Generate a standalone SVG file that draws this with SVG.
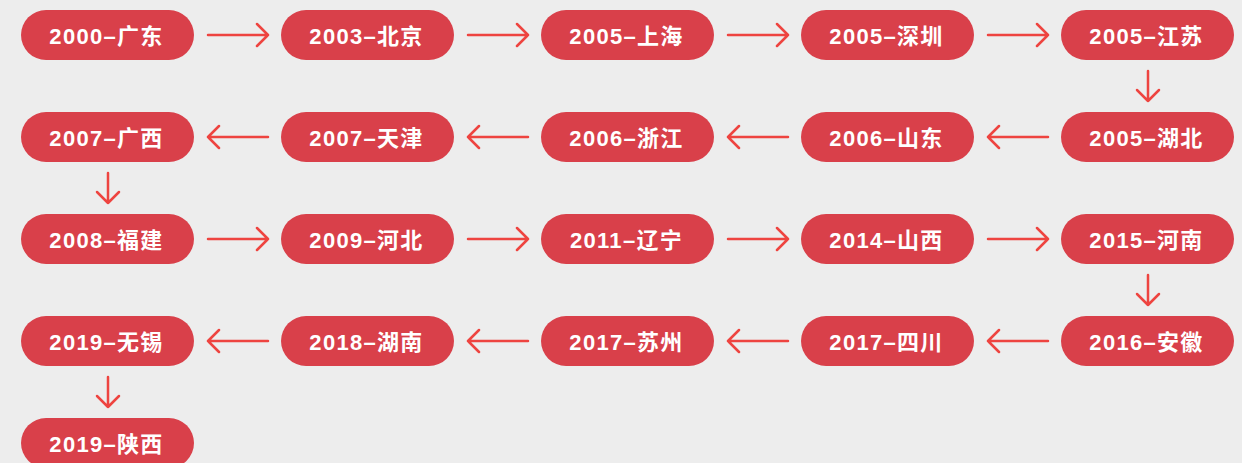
<svg xmlns="http://www.w3.org/2000/svg" width="1242" height="463" viewBox="0 0 1242 463">
<defs>
<style>
.p rect{fill:#d9404a}
.p text{fill:#fff;font-family:"Liberation Sans","Noto Sans CJK SC",sans-serif;font-weight:bold;font-size:22px;letter-spacing:1.3px;text-anchor:middle;dominant-baseline:central}
.c path{fill:none;stroke:#ee4440;stroke-width:2.5;stroke-linecap:round;stroke-linejoin:round}
</style>
</defs>
<rect width="1242" height="463" fill="#ededed"/>
<g class="c" id="connectors">
<path d="M208 35H268M257 24L268 35L257 46"/>
<path d="M468 35H528M517 24L528 35L517 46"/>
<path d="M728 35H788M777 24L788 35L777 46"/>
<path d="M988 35H1048M1037 24L1048 35L1037 46"/>
<path d="M1148 71V101M1137 90L1148 101L1159 90"/>
<path d="M1048 137H988M999 126L988 137L999 148"/>
<path d="M788 137H728M739 126L728 137L739 148"/>
<path d="M528 137H468M479 126L468 137L479 148"/>
<path d="M268 137H208M219 126L208 137L219 148"/>
<path d="M108 173V203M97 192L108 203L119 192"/>
<path d="M208 239H268M257 228L268 239L257 250"/>
<path d="M468 239H528M517 228L528 239L517 250"/>
<path d="M728 239H788M777 228L788 239L777 250"/>
<path d="M988 239H1048M1037 228L1048 239L1037 250"/>
<path d="M1148 275V305M1137 294L1148 305L1159 294"/>
<path d="M1048 341H988M999 330L988 341L999 352"/>
<path d="M788 341H728M739 330L728 341L739 352"/>
<path d="M528 341H468M479 330L468 341L479 352"/>
<path d="M268 341H208M219 330L208 341L219 352"/>
<path d="M108 377V407M97 396L108 407L119 396"/>
</g>
<g class="p" id="n1"><rect x="21" y="10" width="173" height="50" rx="25"/><text x="106.5" y="36">2000–广东</text></g>
<g class="p" id="n2"><rect x="281" y="10" width="173" height="50" rx="25"/><text x="366.5" y="36">2003–北京</text></g>
<g class="p" id="n3"><rect x="541" y="10" width="173" height="50" rx="25"/><text x="626.5" y="36">2005–上海</text></g>
<g class="p" id="n4"><rect x="801" y="10" width="173" height="50" rx="25"/><text x="886.5" y="36">2005–深圳</text></g>
<g class="p" id="n5"><rect x="1061" y="10" width="173" height="50" rx="25"/><text x="1146.5" y="36">2005–江苏</text></g>
<g class="p" id="n6"><rect x="1061" y="112" width="173" height="50" rx="25"/><text x="1146.5" y="138">2005–湖北</text></g>
<g class="p" id="n7"><rect x="801" y="112" width="173" height="50" rx="25"/><text x="886.5" y="138">2006–山东</text></g>
<g class="p" id="n8"><rect x="541" y="112" width="173" height="50" rx="25"/><text x="626.5" y="138">2006–浙江</text></g>
<g class="p" id="n9"><rect x="281" y="112" width="173" height="50" rx="25"/><text x="366.5" y="138">2007–天津</text></g>
<g class="p" id="n10"><rect x="21" y="112" width="173" height="50" rx="25"/><text x="106.5" y="138">2007–广西</text></g>
<g class="p" id="n11"><rect x="21" y="214" width="173" height="50" rx="25"/><text x="106.5" y="240">2008–福建</text></g>
<g class="p" id="n12"><rect x="281" y="214" width="173" height="50" rx="25"/><text x="366.5" y="240">2009–河北</text></g>
<g class="p" id="n13"><rect x="541" y="214" width="173" height="50" rx="25"/><text x="626.5" y="240">2011–辽宁</text></g>
<g class="p" id="n14"><rect x="801" y="214" width="173" height="50" rx="25"/><text x="886.5" y="240">2014–山西</text></g>
<g class="p" id="n15"><rect x="1061" y="214" width="173" height="50" rx="25"/><text x="1146.5" y="240">2015–河南</text></g>
<g class="p" id="n16"><rect x="1061" y="316" width="173" height="50" rx="25"/><text x="1146.5" y="342">2016–安徽</text></g>
<g class="p" id="n17"><rect x="801" y="316" width="173" height="50" rx="25"/><text x="886.5" y="342">2017–四川</text></g>
<g class="p" id="n18"><rect x="541" y="316" width="173" height="50" rx="25"/><text x="626.5" y="342">2017–苏州</text></g>
<g class="p" id="n19"><rect x="281" y="316" width="173" height="50" rx="25"/><text x="366.5" y="342">2018–湖南</text></g>
<g class="p" id="n20"><rect x="21" y="316" width="173" height="50" rx="25"/><text x="106.5" y="342">2019–无锡</text></g>
<g class="p" id="n21"><rect x="21" y="418" width="173" height="50" rx="25"/><text x="106.5" y="444">2019–陕西</text></g>
</svg>
